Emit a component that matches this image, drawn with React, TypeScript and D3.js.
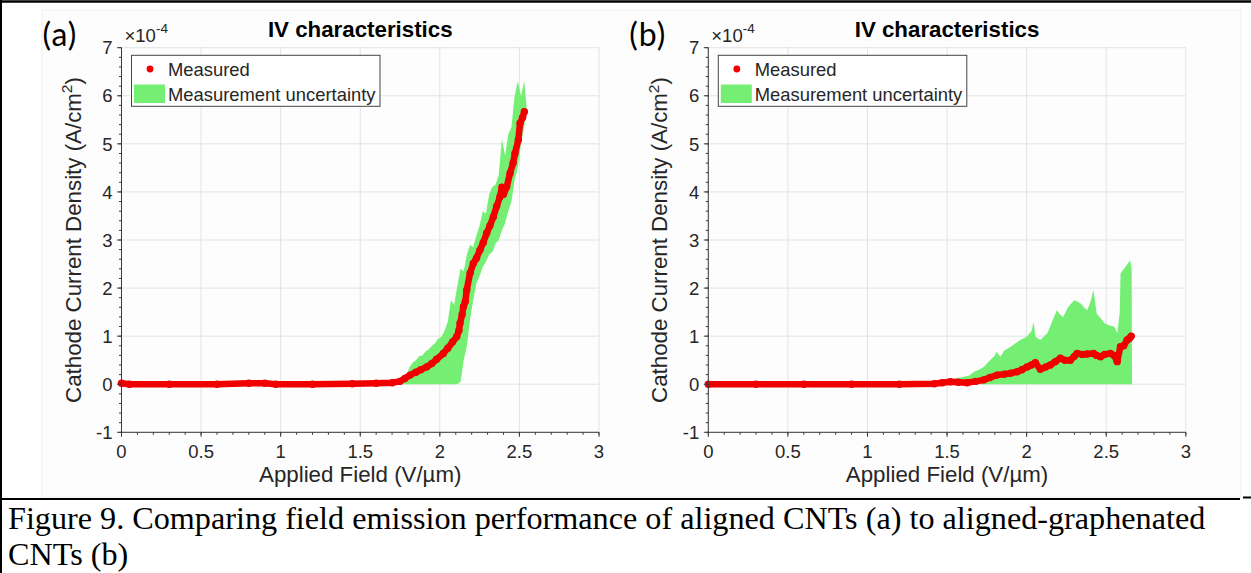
import React from "react";
import * as d3 from "d3";

// ---------- tick definitions ----------
const xTicks = [0, 0.5, 1, 1.5, 2, 2.5, 3];
const xTickLabels = ["0", "0.5", "1", "1.5", "2", "2.5", "3"];
const yTicks = [-1, 0, 1, 2, 3, 4, 5, 6, 7];
const yTickLabels = ["-1", "0", "1", "2", "3", "4", "5", "6", "7"];

// ---------- panel (a): aligned CNTs (values in 1e-4 A/cm^2) ----------
const measuredAX = [0, 0.05, 0.3, 0.6, 0.8, 0.9, 0.97, 1.2, 1.45, 1.6, 1.7, 1.75, 1.78, 1.813, 1.85, 1.88, 1.917, 1.95, 1.98, 2.022, 2.05, 2.08, 2.106, 2.12, 2.127, 2.14, 2.148, 2.16, 2.169, 2.19, 2.21, 2.23, 2.252, 2.273, 2.294, 2.315, 2.336, 2.357, 2.378, 2.39, 2.4, 2.42, 2.441, 2.46, 2.472, 2.493, 2.504, 2.52, 2.531];
const measuredAY = [0.02, 0, 0, 0, 0.02, 0.02, 0, 0, 0.01, 0.02, 0.03, 0.06, 0.12, 0.19, 0.25, 0.3, 0.36, 0.43, 0.52, 0.64, 0.75, 0.88, 0.99, 1.12, 1.27, 1.45, 1.61, 1.72, 1.96, 2.31, 2.51, 2.62, 2.79, 2.95, 3.14, 3.3, 3.48, 3.7, 3.9, 4.1, 3.95, 4.1, 4.39, 4.6, 4.8, 5.08, 5.43, 5.55, 5.67];

const bandAX = [1.77, 1.79, 1.81, 1.83, 1.85, 1.87, 1.89, 1.91, 1.93, 1.95, 1.97, 1.99, 2.01, 2.03, 2.05, 2.07, 2.09, 2.11, 2.13, 2.15, 2.17, 2.19, 2.21, 2.23, 2.25, 2.27, 2.29, 2.31, 2.33, 2.35, 2.37, 2.39, 2.41, 2.43, 2.45, 2.47, 2.49, 2.51, 2.53, 2.545];
const bandAHigh = [0.02, 0.18, 0.36, 0.45, 0.5, 0.58, 0.6, 0.68, 0.72, 0.8, 0.85, 0.95, 0.98, 1.12, 1.3, 1.75, 1.65, 2.05, 2.4, 2.35, 2.7, 2.9, 2.85, 3.1, 3.3, 3.6, 3.55, 3.95, 4.1, 4.15, 4.35, 5.1, 4.75, 5.2, 5.35, 6.0, 6.3, 6.0, 6.3, 5.8];
const bandALow = [0, 0, 0, 0, 0, 0, 0, 0, 0, 0, 0, 0, 0, 0, 0, 0, 0, 0, 0.05, 0.5, 0.8, 1.35, 1.75, 2.1, 2.25, 2.45, 2.55, 2.7, 2.75, 2.92, 3.0, 3.2, 3.35, 3.6, 3.8, 4.25, 4.5, 5.0, 5.35, 5.7];

// ---------- panel (b): aligned-graphenated CNTs ----------
const measuredBX = [0, 0.3, 0.6, 0.9, 1.2, 1.42, 1.47, 1.52, 1.57, 1.625, 1.68, 1.73, 1.77, 1.814, 1.86, 1.9, 1.94, 1.97, 2.003, 2.03, 2.055, 2.086, 2.12, 2.149, 2.18, 2.212, 2.24, 2.275, 2.3, 2.317, 2.35, 2.38, 2.421, 2.44, 2.464, 2.49, 2.526, 2.55, 2.569, 2.589, 2.61, 2.631, 2.645, 2.657];
const measuredBY = [0, 0, 0, 0, 0, 0.01, 0.03, 0.05, 0.04, 0.03, 0.06, 0.09, 0.14, 0.19, 0.21, 0.23, 0.26, 0.3, 0.36, 0.4, 0.45, 0.31, 0.36, 0.4, 0.47, 0.54, 0.5, 0.5, 0.58, 0.64, 0.62, 0.63, 0.64, 0.6, 0.57, 0.62, 0.64, 0.6, 0.47, 0.78, 0.8, 0.92, 0.95, 1.0];

const bandBX = [1.42, 1.45, 1.5, 1.55, 1.6, 1.64, 1.67, 1.7, 1.73, 1.77, 1.8, 1.81, 1.835, 1.86, 1.9, 1.93, 1.96, 2.0, 2.03, 2.044, 2.055, 2.086, 2.11, 2.13, 2.16, 2.19, 2.21, 2.23, 2.26, 2.3, 2.34, 2.36, 2.38, 2.4, 2.42, 2.44, 2.47, 2.49, 2.52, 2.55, 2.57, 2.585, 2.59, 2.62, 2.65, 2.66, 2.662];
const bandBHigh = [0.0, 0.05, 0.1, 0.12, 0.15, 0.18, 0.26, 0.3, 0.36, 0.5, 0.6, 0.68, 0.57, 0.7, 0.78, 0.85, 0.92, 0.99, 1.1, 1.3, 0.99, 0.92, 1.0, 1.06, 1.3, 1.54, 1.45, 1.4, 1.6, 1.75, 1.68, 1.6, 1.54, 1.7, 1.96, 1.47, 1.35, 1.27, 1.22, 1.2, 1.06, 1.5, 2.31, 2.44, 2.58, 2.4, 0];
const bandBLow = [0, 0, 0, 0, 0, 0, 0, 0, 0, 0, 0, 0, 0, 0, 0, 0, 0, 0, 0, 0, 0, 0, 0, 0, 0, 0, 0, 0, 0, 0, 0, 0, 0, 0, 0, 0, 0, 0, 0, 0, 0, 0, 0, 0, 0, 0, 0];

// ---------- text ----------
const titleText = "IV characteristics";
const xLabelText = "Applied Field (V/\u00b5m)";
const legendLabels = ["Measured", "Measurement uncertainty"];
const captionLine1 = "Figure 9. Comparing field emission performance of aligned CNTs (a) to aligned-graphenated";
const captionLine2 = "CNTs (b)";

const FONT = "'Liberation Sans', Arial, Helvetica, sans-serif";
const RED = "#f00000";
const GREEN = "#74ef74";
const GRID = "#e3e3e3";
const AXIS = "#3a3a3a";
const TEXT = "#262626";

type PanelProps = {
  left: number;
  letter: string;
  mx: number[];
  my: number[];
  bx: number[];
  blo: number[];
  bhi: number[];
};

function Panel({ left, letter, mx, my, bx, blo, bhi }: PanelProps) {
  const width = 477.5;
  const top = 47.7;
  const bottom = 432.3;
  const x = d3.scaleLinear().domain([0, 3]).range([left, left + width]);
  const y = d3.scaleLinear().domain([-1, 7]).range([bottom, top]);

  const band = bx.map((v, i) => ({ x: v, lo: blo[i], hi: bhi[i] }));
  const pts = mx.map((v, i) => ({ x: v, y: my[i] }));
  const area = d3
    .area<{ x: number; lo: number; hi: number }>()
    .x((d) => x(d.x))
    .y0((d) => y(d.lo))
    .y1((d) => y(d.hi));
  const line = d3
    .line<{ x: number; y: number }>()
    .x((d) => x(d.x))
    .y((d) => y(d.y));

  const xMinor = d3.range(0, 3.0001, 0.1);
  const yMinor = d3.range(-1, 7.0001, 0.2);
  const cx = left + width / 2;
  const cy = (top + bottom) / 2;
  const legL = left + 10;

  return (
    <g>
      {/* grid */}
      {xTicks.map((t) => (
        <line key={"gx" + t} x1={x(t)} x2={x(t)} y1={top} y2={bottom} stroke={GRID} strokeWidth={1} />
      ))}
      {yTicks.map((t) => (
        <line key={"gy" + t} x1={left} x2={left + width} y1={y(t)} y2={y(t)} stroke={GRID} strokeWidth={1} />
      ))}
      {/* uncertainty band */}
      <path d={area(band) || ""} fill={GREEN} stroke="none" />
      {/* measured */}
      <path d={line(pts) || ""} fill="none" stroke={RED} strokeWidth={6.5} strokeLinejoin="round" strokeLinecap="round" />
      {pts.map((p, i) => (
        <circle key={"p" + i} cx={x(p.x)} cy={y(p.y)} r={3.7} fill={RED} />
      ))}
      {/* axes */}
      <line x1={left} x2={left} y1={top} y2={bottom} stroke={AXIS} strokeWidth={1} />
      <line x1={left} x2={left + width} y1={bottom} y2={bottom} stroke={AXIS} strokeWidth={1} />
      {xMinor.map((t, i) => (
        <line key={"xm" + i} x1={x(t)} x2={x(t)} y1={bottom} y2={bottom + 2.5} stroke={AXIS} strokeWidth={1} />
      ))}
      {xTicks.map((t) => (
        <line key={"xt" + t} x1={x(t)} x2={x(t)} y1={bottom} y2={bottom + 4.5} stroke={AXIS} strokeWidth={1} />
      ))}
      {yMinor.map((t, i) => (
        <line key={"ym" + i} x1={left - 2.5} x2={left} y1={y(t)} y2={y(t)} stroke={AXIS} strokeWidth={1} />
      ))}
      {yTicks.map((t) => (
        <line key={"yt" + t} x1={left - 4.5} x2={left} y1={y(t)} y2={y(t)} stroke={AXIS} strokeWidth={1} />
      ))}
      {xTicks.map((t, i) => (
        <text key={"xl" + t} x={x(t)} y={bottom + 25.2} textAnchor="middle" fontFamily={FONT} fontSize={18.5} fill={TEXT}>
          {xTickLabels[i]}
        </text>
      ))}
      {yTicks.map((t, i) => (
        <text key={"yl" + t} x={left - 9} y={y(t) + 6.7} textAnchor="end" fontFamily={FONT} fontSize={18.5} fill={TEXT}>
          {yTickLabels[i]}
        </text>
      ))}
      {/* exponent */}
      <text x={left + 3} y={42} fontFamily={FONT} fontSize={18.5} fill={TEXT}>
        {"\u00d710"}
        <tspan fontSize={13.5} dy={-9}>-4</tspan>
      </text>
      {/* title */}
      <text x={cx} y={37} textAnchor="middle" fontFamily={FONT} fontSize={22.3} fontWeight="bold" fill="#000">
        {titleText}
      </text>
      {/* axis labels */}
      <text x={cx} y={481.5} textAnchor="middle" fontFamily={FONT} fontSize={22.3} fill={TEXT}>
        {xLabelText}
      </text>
      <text transform={`translate(${left - 41},${cy}) rotate(-90)`} textAnchor="middle" fontFamily={FONT} fontSize={22.3} fill={TEXT}>
        {"Cathode Current Density (A/cm"}
        <tspan fontSize={15.5} dy={-8.5}>2</tspan>
        <tspan dy={8.5}>)</tspan>
      </text>
      {/* panel letter */}
      <text x={left - 79} y={46} fontFamily="Lato, 'Open Sans', sans-serif" fontSize={32} letterSpacing={1} fill="#000">
        {letter}
      </text>
      {/* legend */}
      <rect x={legL} y={55.3} width={248.5} height={51} fill="#fff" stroke="#444" strokeWidth={1} />
      <circle cx={legL + 18.5} cy={69} r={3.4} fill={RED} />
      <rect x={legL + 2.5} y={84.5} width={31} height={18.5} fill={GREEN} />
      <text x={legL + 36.5} y={75.5} fontFamily={FONT} fontSize={18.4} fill={TEXT}>
        {legendLabels[0]}
      </text>
      <text x={legL + 36.5} y={100.5} fontFamily={FONT} fontSize={18.4} fill={TEXT}>
        {legendLabels[1]}
      </text>
    </g>
  );
}

export default function App() {
  return (
    <svg
      width={1251}
      height={573}
      viewBox="0 0 1251 573"
      style={{ position: "absolute", left: 0, top: 0, background: "#fff" }}
    >
      <rect x={0} y={0} width={1251} height={573} fill="#fff" />
      <rect x={42} y={10} width={1199} height={487} fill="#fdfdfd" stroke="#f0f0f0" strokeWidth={1} />
      <Panel left={121.5} letter="(a)" mx={measuredAX} my={measuredAY} bx={bandAX} blo={bandALow} bhi={bandAHigh} />
      <Panel left={708.3} letter="(b)" mx={measuredBX} my={measuredBY} bx={bandBX} blo={bandBLow} bhi={bandBHigh} />
      {/* table borders */}
      <line x1={0} x2={1251} y1={1.5} y2={1.5} stroke="#000" strokeWidth={2.5} />
      <line x1={1} x2={1} y1={0} y2={573} stroke="#000" strokeWidth={2} />
      <line x1={0} x2={1240} y1={499} y2={499} stroke="#000" strokeWidth={2} />
      <line x1={1243} x2={1251} y1={497.5} y2={497.5} stroke="#000" strokeWidth={2} />
      {/* caption */}
      <text x={8} y={529} fontFamily="'Liberation Serif', 'Times New Roman', serif" fontSize={32.2} fill="#000">
        {captionLine1}
      </text>
      <text x={8} y={565} fontFamily="'Liberation Serif', 'Times New Roman', serif" fontSize={32.2} fill="#000">
        {captionLine2}
      </text>
    </svg>
  );
}
